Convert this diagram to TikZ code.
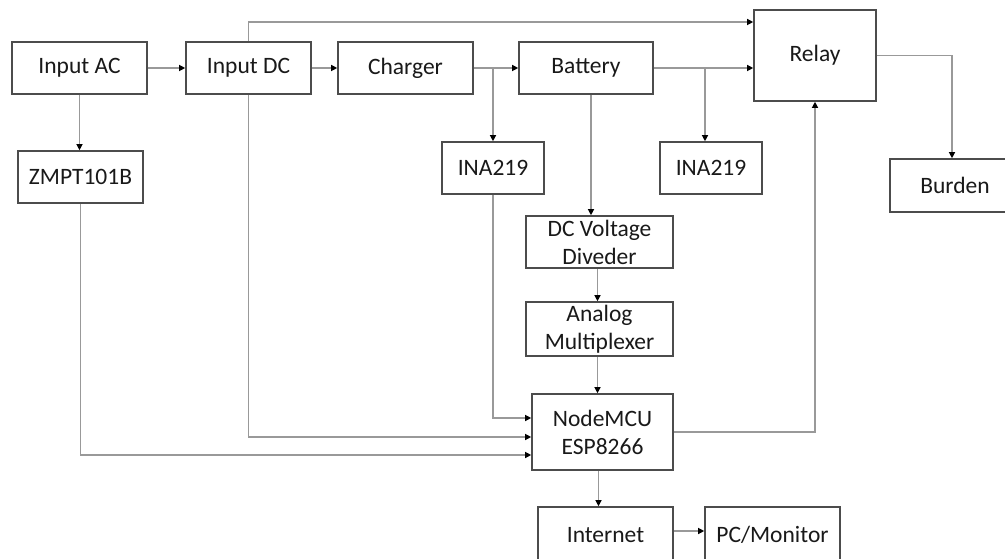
\documentclass[tikz,border=0pt]{standalone}
\usepackage{fontspec}
\setmainfont{Carlito}
\usetikzlibrary{arrows.meta}
\begin{document}
\begin{tikzpicture}[x=1pt,y=-1pt,
  block/.style={draw=black!70,line width=1.6pt,fill=white,inner sep=0pt,align=center,
    font=\fontsize{23.5}{28}\selectfont,text=black!90},
  link/.style={draw=black!40,line width=1.2pt,-{Triangle[length=6pt,width=6pt,color=black]}}]
\fill[white] (0,0) rectangle (1005,559);
\useasboundingbox (0,0) rectangle (1005,559);
\node[block,minimum width=135pt,minimum height=52pt] (inac) at (79.5,68) {Input AC};
\node[block,minimum width=125pt,minimum height=52pt] (indc) at (248.5,68) {Input DC};
\node[block,minimum width=135pt,minimum height=52pt] (charger) at (405.5,68) {Charger};
\node[block,minimum width=134pt,minimum height=52pt] (battery) at (586,68) {Battery};
\node[block,minimum width=122pt,minimum height=91pt] (relay) at (815,55.5) {Relay};
\node[block,minimum width=125pt,minimum height=52pt] (zmpt) at (80.5,177) {ZMPT101B};
\node[block,minimum width=102pt,minimum height=52pt] (ina1) at (493,168) {INA219};
\node[block,minimum width=102pt,minimum height=52pt] (ina2) at (711,168) {INA219};
\node[block,minimum width=130pt,minimum height=53pt] (burden) at (955,185.5) {Burden};
\node[block,minimum width=147pt,minimum height=52pt] (dcdiv) at (599.5,242) {DC Voltage\\Diveder};
\node[block,minimum width=147pt,minimum height=54pt] (amux) at (599.5,329) {Analog\\Multiplexer};
\node[block,minimum width=141pt,minimum height=76pt] (mcu) at (602.5,432) {NodeMCU\\ESP8266};
\node[block,minimum width=135pt,minimum height=56pt] (internet) at (605.5,535) {Internet};
\node[block,minimum width=135pt,minimum height=56pt] (pc) at (772.5,535) {PC/Monitor};
\coordinate (tap1) at (493,68);
\coordinate (tap2) at (705,68);
\coordinate (dctop) at (248.5,22);
\draw[link] (inac) -- (indc);
\draw[link] (indc) -- (charger);
\draw[link] (charger) -- (battery);
\draw[link] (tap1) -- (ina1);
\draw[link] (battery.east) -- (battery.east -| relay.west);
\draw[link] (tap2) -- (tap2 |- ina2.north);
\draw[link] (indc.north) -- (dctop) -- (dctop -| relay.west);
\draw[link] (inac.south) -- (inac.south |- zmpt.north);
\draw[link] ([xshift=5pt]battery.south) -- ([xshift=5pt]battery.south |- dcdiv.north);
\draw[link] ([xshift=-2pt]dcdiv.south) -- ([xshift=-2pt]amux.north);
\draw[link] ([xshift=-2pt]amux.south) -- ([xshift=-2pt]amux.south |- mcu.north);
\draw[link] ([xshift=-4pt]mcu.south) -- ([xshift=-4pt]mcu.south |- internet.north);
\draw[link] (ina1.south) |- ([yshift=14pt]mcu.west);
\draw[link] (indc.south) |- ([yshift=-5pt]mcu.west);
\draw[link] (zmpt.south) |- ([yshift=-23pt]mcu.west);
\draw[link] (mcu.east) -| (relay.south);
\draw[link] (relay.east) -| ([xshift=-3pt]burden.north);
\draw[link] ([yshift=4pt]internet.east) -- ([yshift=4pt]pc.west);
\end{tikzpicture}
\end{document}
